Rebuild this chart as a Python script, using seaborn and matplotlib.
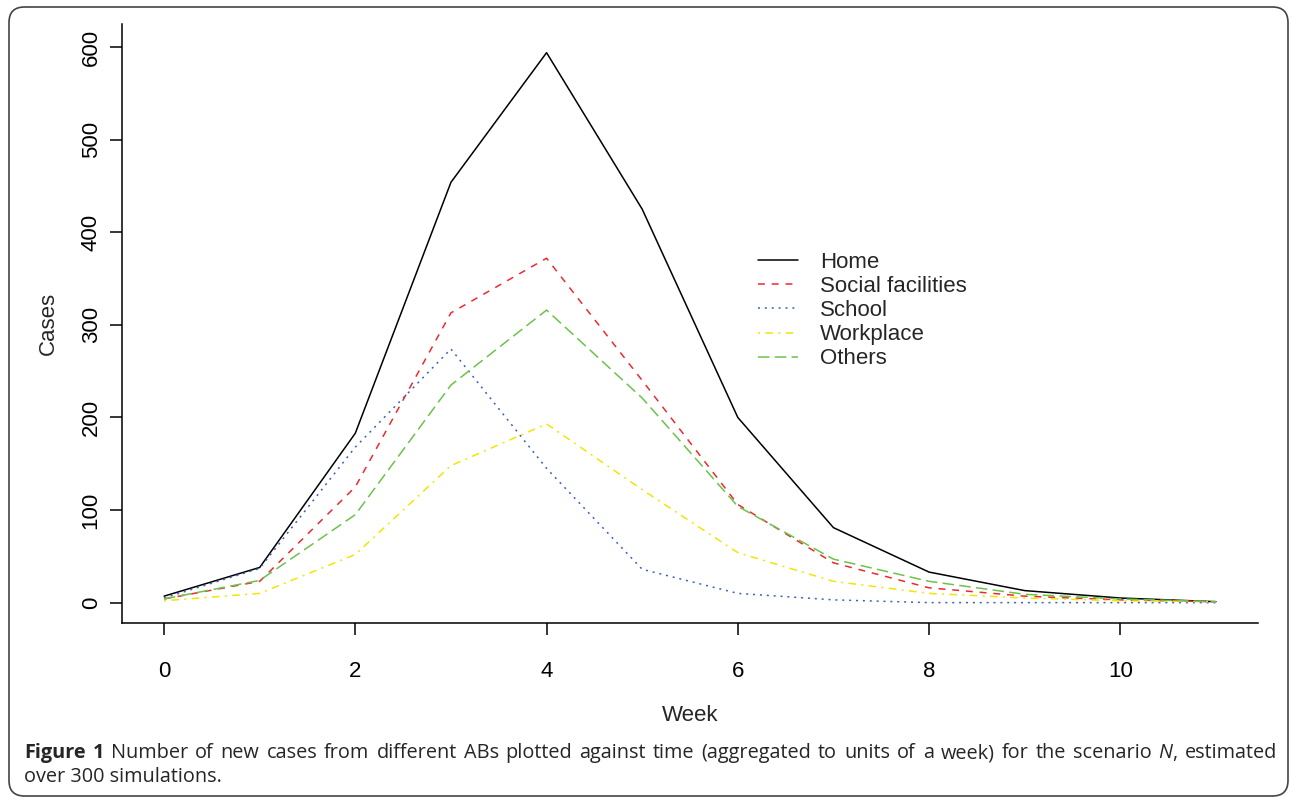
import numpy as np
import pandas as pd
import matplotlib
matplotlib.use("Agg")
import matplotlib.pyplot as plt
import seaborn as sns
from matplotlib.patches import FancyBboxPatch

# weekly new cases per activity bundle
weeks = list(range(12))
home = [7, 38, 183, 454, 594, 425, 200, 81, 33, 13, 5, 1]
social = [4, 23, 125, 313, 372, 240, 106, 43, 16, 7, 3, 1]
school = [5, 37, 168, 274, 145, 36, 10, 3, 0, 0, 0, 0]
workplace = [2, 10, 52, 148, 193, 122, 54, 23, 10, 5, 2, 1]
others = [4, 24, 95, 235, 316, 221, 104, 47, 23, 9, 4, 1]

labels = ["Home", "Social facilities", "School", "Workplace", "Others"]
series = [home, social, school, workplace, others]
colors = ["black", "#F0282D", "#3A5FBF", "#F2E600", "#6CC24A"]
styles = ["-", (0, (4.5, 4.5)), (0, (1.3, 3.2)), (0, (1.3, 3.5, 5, 3.5)), (0, (7.5, 3.5))]

W, H = 1292, 799
sns.set_style("white")
plt.rcParams["font.family"] = ["Liberation Sans", "DejaVu Sans"]
fs = 16

fig = plt.figure(figsize=(W / 100, H / 100), dpi=100)
ax = fig.add_axes([122 / W, 1 - 623 / H, (1258 - 122) / W, (623 - 24) / H])

for lab, vals, c, ls in zip(labels, series, colors, styles):
    sns.lineplot(x=weeks, y=vals, ax=ax, color=c, linestyle=ls, lw=1.1, label=lab)

ax.set_xlim(-0.44, 11.44)
ax.set_ylim(-22, 625)
ax.set_xticks([0, 2, 4, 6, 8, 10])
ax.set_yticks([0, 100, 200, 300, 400, 500, 600])
for s in ["top", "right"]:
    ax.spines[s].set_visible(False)
for s in ["left", "bottom"]:
    ax.spines[s].set_linewidth(1.1)
    ax.spines[s].set_color("black")
ax.tick_params(axis="both", direction="out", length=8.6, width=1.1, colors="black",
               labelsize=fs, left=True, bottom=True)
ax.tick_params(axis="x", pad=19)
ax.tick_params(axis="y", pad=6)
for t in ax.get_yticklabels():
    t.set_rotation(90)
    t.set_va("center")
ax.set_xlabel("Week", fontsize=fs, labelpad=16)
ax.set_ylabel("Cases", fontsize=fs, labelpad=16)

ax.legend(loc="upper left", bbox_to_anchor=(758 / W, 1 - 252 / H), bbox_transform=fig.transFigure,
          frameon=False, fontsize=fs, handlelength=1.8, handletextpad=1.0, labelspacing=0.14,
          borderpad=0, borderaxespad=0)

# rounded frame around figure + caption
frame = FancyBboxPatch((9 / W, 3 / H), (1288 - 9) / W, (792 - 3) / H, transform=fig.transFigure,
                       boxstyle="round,pad=0,rounding_size=0.012", fill=False, ec="#444444", lw=1.2,
                       mutation_aspect=W / H)
fig.patches.append(frame)

# caption, first line justified between x0 and x1
cap_font = ["Open Sans", "DejaVu Sans"]
cfs = 14.3
x0, x1 = 24, 1277
y1 = 1 - 758 / H
words = [[("Figure", "bold", "normal")], [("1", "bold", "normal")]]
words += [[(w, "normal", "normal")] for w in
          "Number of new cases from different ABs plotted against time (aggregated to units of a week) for the scenario".split()]
words += [[("N", "normal", "italic"), (",", "normal", "normal")], [("estimated", "normal", "normal")]]

fig.canvas.draw()
renderer = fig.canvas.get_renderer()
placed = []
for word in words:
    segs = []
    for txt, wt, st in word:
        t = fig.text(0, y1, txt, fontsize=cfs, fontweight=wt, fontstyle=st, family=cap_font, va="baseline")
        segs.append((t, t.get_window_extent(renderer).width))
    placed.append(segs)
total = sum(w for segs in placed for _, w in segs)
gap = (x1 - x0 - total) / (len(placed) - 1)
x = x0
for segs in placed:
    for t, w in segs:
        t.set_x(x / W)
        x += w
    x += gap
fig.text(x0 / W, 1 - 782 / H, "over 300 simulations.", fontsize=cfs, family=cap_font, va="baseline")

fig.savefig("out.png", dpi=100)
